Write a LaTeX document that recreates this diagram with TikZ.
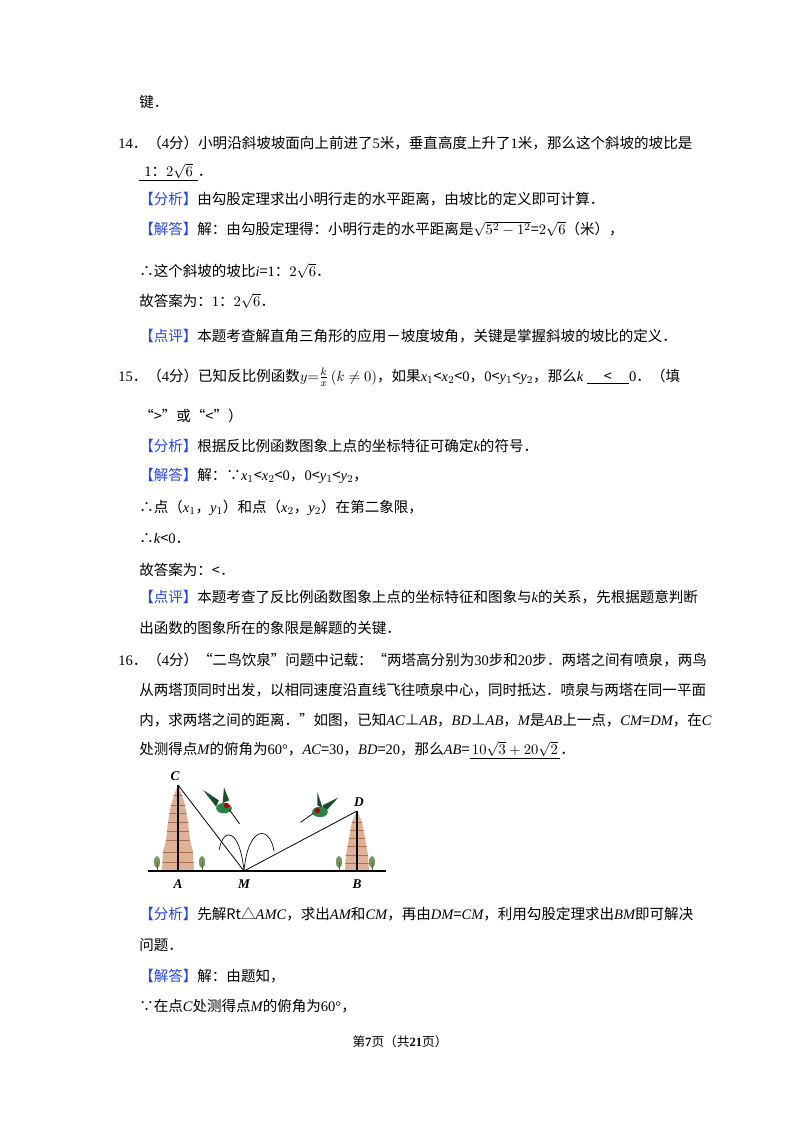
\documentclass[tikz,border=0pt]{standalone}
\usepackage{fontspec}
\setmainfont{Noto Sans CJK SC}
\newfontfamily\lat{Liberation Serif}
\usetikzlibrary{calc}
\definecolor{lblue}{RGB}{40,70,230}
\definecolor{tan}{RGB}{222,178,150}
\definecolor{tanline}{RGB}{170,110,80}
\definecolor{tree}{RGB}{120,150,100}
\definecolor{bird}{RGB}{40,130,70}
\newcommand{\vi}[1]{{\lat\itshape #1}}
\newcommand{\la}[1]{{\lat #1}}
\newcommand{\lb}[1]{{\color{lblue}【#1】}}
\newcommand{\blank}[2]{\underline{\hbox to #1{\hfil #2\hfil}}}
\begin{document}
\begin{tikzpicture}[x=0.75pt,y=-0.75pt,
  t/.style={anchor=west,inner sep=0pt,font=\fontsize{10.9}{12}\selectfont},
  lab/.style={inner sep=0pt,font=\lat\bfseries\itshape\fontsize{10}{12}\selectfont},
  tower/.style={fill=tan,draw=none}]
\useasboundingbox[fill=white] (0,0) rectangle (800,1132);
\node[t] (l1) at (139,102) {键．};
\node[t] (l2) at (118,143) {\la{14}．（\la{4}分）小明沿斜坡坡面向上前进了\la{5}米，垂直高度上升了\la{1}米，那么这个斜坡的坡比是};
\node[t] (l3) at (139,172) {\blank{44pt}{\la{1}：$2\sqrt{6}$}．};
\node[t] (l4) at (139,199) {\lb{分析}由勾股定理求出小明行走的水平距离，由坡比的定义即可计算．};
\node[t] (l5) at (139,229) {\lb{解答}解：由勾股定理得：小明行走的水平距离是$\sqrt{5^2-1^2}$=$2\sqrt{6}$（米），};
\node[t] (l6) at (139,271) {∴这个斜坡的坡比\vi{i}=\la{1}：$2\sqrt{6}$．};
\node[t] (l7) at (139,301) {故答案为：\la{1}：$2\sqrt{6}$．};
\node[t] (l8) at (139,336) {\lb{点评}本题考查解直角三角形的应用－坡度坡角，关键是掌握斜坡的坡比的定义．};
\node[t] (l9) at (118,377) {\la{15}．（\la{4}分）已知反比例函数$y{=}\frac{k}{x}\,(k\neq0)$，如果\vi{x}$_1$<\vi{x}$_2$<\la{0}，\la{0}<\vi{y}$_1$<\vi{y}$_2$，那么\vi{k}\ \blank{32pt}{<}\la{0}．（填};
\node[t] (l10) at (139,416) {“>”或“<”）};
\node[t] (l11) at (139,446) {\lb{分析}根据反比例函数图象上点的坐标特征可确定\vi{k}的符号．};
\node[t] (l12) at (139,476) {\lb{解答}解：∵\vi{x}$_1$<\vi{x}$_2$<\la{0}，\la{0}<\vi{y}$_1$<\vi{y}$_2$，};
\node[t] (l13) at (139,508) {∴点（\vi{x}$_1$，\vi{y}$_1$）和点（\vi{x}$_2$，\vi{y}$_2$）在第二象限，};
\node[t] (l14) at (139,539) {∴\vi{k}<\la{0}．};
\node[t] (l15) at (139,570) {故答案为：<．};
\node[t] (l16) at (139,597) {\lb{点评}本题考查了反比例函数图象上点的坐标特征和图象与\vi{k}的关系，先根据题意判断};
\node[t] (l17) at (139,628) {出函数的图象所在的象限是解题的关键．};
\node[t] (l18) at (118,660) {\la{16}．（\la{4}分）“二鸟饮泉”问题中记载：“两塔高分别为\la{30}步和\la{20}步．两塔之间有喷泉，两鸟};
\node[t] (l19) at (139,690) {从两塔顶同时出发，以相同速度沿直线飞往喷泉中心，同时抵达．喷泉与两塔在同一平面};
\node[t] (l20) at (139,720) {内，求两塔之间的距离．”如图，已知\vi{AC}⊥\vi{AB}，\vi{BD}⊥\vi{AB}，\vi{M}是\vi{AB}上一点，\vi{CM}=\vi{DM}，在\vi{C}};
\node[t] (l21) at (139,750) {处测得点\vi{M}的俯角为\la{60°}，\vi{AC}=\la{30}，\vi{BD}=\la{20}，那么\vi{AB}=\blank{68pt}{$10\sqrt{3}+20\sqrt{2}$}．};
\node[t] (l22) at (139,914) {\lb{分析}先解Rt△\vi{AMC}，求出\vi{AM}和\vi{CM}，再由\vi{DM}=\vi{CM}，利用勾股定理求出\vi{BM}即可解决};
\node[t] (l23) at (139,945) {问题．};
\node[t] (l24) at (139,976) {\lb{解答}解：由题知，};
\node[t] (l25) at (139,1006) {∵在点\vi{C}处测得点\vi{M}的俯角为\la{60°}，};
\node[inner sep=0pt,font=\fontsize{9.5}{11}\selectfont] (ft) at (400,1042) {第\textbf{\la{7}}页（共\textbf{\la{21}}页）};
% figure
\foreach \cx in {157,202,339,372}{
  \fill[tree] (\cx,862) ellipse (3 and 6); \draw[tree!70!black] (\cx,862)--(\cx,871);}
\begin{scope}
\clip (162,871)--(163,852)--(166,840)--(168,822)--(171,805)--(174,795)--(178,785)--(182,795)--(185,805)--(188,822)--(190,840)--(193,852)--(194,871)--cycle;
\fill[tan] (150,780) rectangle (200,871);
\foreach \yy in {795,805,813,822,831,840,852,862}{\draw[tanline,line width=0.5pt] (150,\yy)--(200,\yy);}
\end{scope}
\begin{scope}
\clip (345,871)--(346,855)--(349,838)--(352,822)--(357,811)--(362,822)--(365,838)--(368,855)--(369,871)--cycle;
\fill[tan] (340,805) rectangle (375,871);
\foreach \yy in {822,830,838,846,855,863}{\draw[tanline,line width=0.5pt] (340,\yy)--(375,\yy);}
\end{scope}
% birds
\begin{scope}[shift={(224,803)},scale=1.3]
\fill[bird!60!black] (-16,-10)--(-4,-2)--(-6,3)--cycle;
\fill[bird!60!black] (0,-12)--(4,-2)--(-1,0)--cycle;
\fill[bird] (0,4) ellipse (6 and 4);
\fill[red!70!black] (2,2) circle (2);
\draw[black,line width=0.6pt] (4,5)--(12,16);
\end{scope}
\begin{scope}[shift={(320,808)},scale=1.3]
\fill[bird!60!black] (14,-8)--(2,-2)--(4,3)--cycle;
\fill[bird!60!black] (-2,-12)--(-2,-2)--(2,0)--cycle;
\fill[bird] (0,3) ellipse (6 and 4);
\fill[red!70!black] (-2,2) circle (2);
\draw[black,line width=0.6pt] (-5,4)--(-15,11);
\end{scope}
\coordinate (A) at (178,871);
\coordinate (C) at (178,785);
\coordinate (M) at (244,871);
\coordinate (B) at (357,871);
\coordinate (D) at (357,811);
\draw[line width=0.9pt] (148,871)--(386,871);
\draw[line width=0.9pt] (A)--(C);
\draw[line width=0.9pt] (B)--(D);
\draw[line width=0.6pt] (C)--(M)--(D);
\draw[line width=0.5pt] (219,850) .. controls (224,825) and (240,830) .. (M);
\draw[line width=0.5pt] (M) .. controls (248,825) and (270,825) .. (274,851);
\node[lab] (lC) at (175,776) {C};
\node[lab] (lD) at (359,802) {D};
\node[lab] (lA) at (178,884) {A};
\node[lab] (lM) at (244,884) {M};
\node[lab] (lB) at (357,884) {B};
\end{tikzpicture}
\end{document}
